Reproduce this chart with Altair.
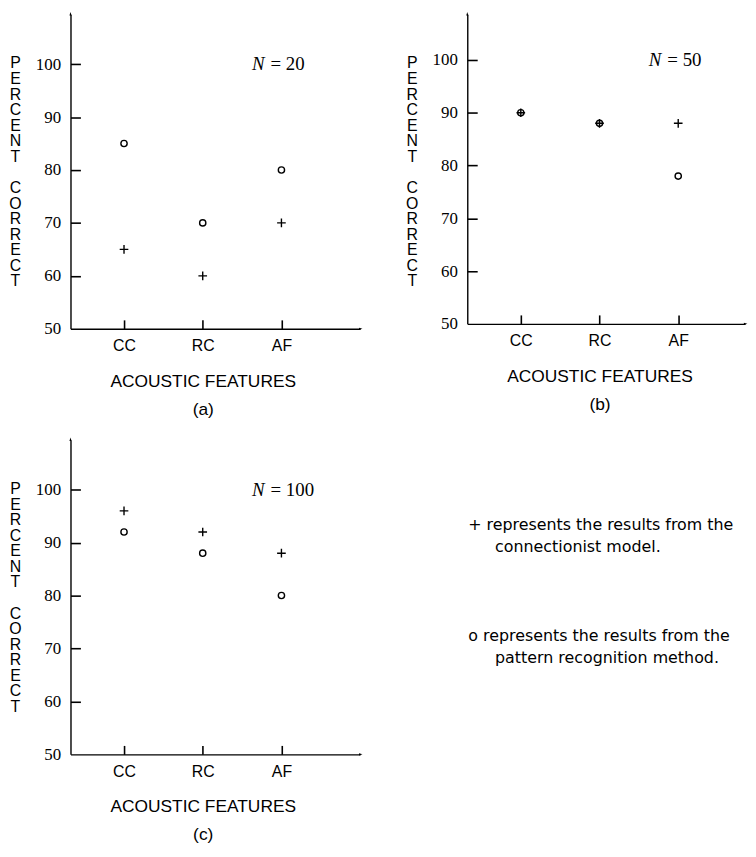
import altair as alt
import pandas as pd

# ---------------- data ----------------
features = ["CC", "RC", "AF"]
feature_pos = [1, 2, 3]
panel_tags = ["a", "b", "c"]
sample_sizes = [20, 50, 100]
conn_a = [65, 60, 70]
conn_b = [90, 88, 88]
conn_c = [96, 92, 88]
patt_a = [85, 70, 80]
patt_b = [90, 88, 78]
patt_c = [92, 88, 80]
y_tick_values = [60, 70, 80, 90, 100]
y_label_values = [50, 60, 70, 80, 90, 100]
y_title_letters = list("PERCENT") + ["\u2800"] + list("CORRECT")
x_title = "ACOUSTIC FEATURES"
legend_lines = [
    "+ represents the results from the",
    "connectionist model.",
    "o represents the results from the",
    "pattern recognition method.",
]

# ---------------- layout / style ----------------
W, H = 292, 317
WB, HB = 280, 312
X_DOMAIN = [0.32, 4.0]
X_DOMAIN_B = [0.32, 0.32 + WB / (W / 3.68)]
Y_DOMAIN = [50, 109.4]
Y_DOMAIN_B = [50, 108.65]
YTICK_PX = 10   # inward tick length on the y axis
XTICK_PX = 9    # inward tick length on the x axis
SANS = "Liberation Sans"
SERIF = "Liberation Serif"
LEG_FONT = "DejaVu Sans"
PLUS = "M-1,0H1M0,-1V1"
ARROW_UP = "M0,-1L-0.45,0.5L0.45,0.5Z"
ARROW_RIGHT = "M1,0L-0.5,-0.45L-0.5,0.45Z"

label_expr = "[" + ",".join(f"'{f}'" for f in features) + "][datum.value - 1]"


def panel(tag, n, conn, patt, width, height, xdom, ydom):
    pts = pd.DataFrame({
        "pos": feature_pos + feature_pos,
        "value": conn + patt,
        "method": ["conn"] * 3 + ["patt"] * 3,
    })
    x_unit = width / (xdom[1] - xdom[0])
    rc_px = (2 - xdom[0]) * x_unit
    xs = alt.Scale(domain=xdom, nice=False, zero=False)
    ys = alt.Scale(domain=ydom, nice=False, zero=False)
    x_axis = alt.Axis(
        values=feature_pos, labelExpr=label_expr, tickSize=0, labelPadding=9,
        labelFont=SANS, labelFontSize=16, labelColor="black",
        domainColor="black", domainWidth=1.4, grid=False,
        title=[x_title, f"({tag})"], titleFont=SANS, titleFontSize=17.5,
        titleFontWeight="normal", titleColor="black", titleLineHeight=28,
        titleX=rc_px, titleY=58, titleAlign="center", titleBaseline="alphabetic",
    )
    y_axis = alt.Axis(
        values=y_label_values, tickSize=0, labelPadding=10,
        labelFont=SERIF, labelFontSize=17, labelColor="black",
        domainColor="black", domainWidth=1.4, grid=False,
        title=y_title_letters, titleFont=SANS, titleFontSize=16,
        titleFontWeight="normal", titleColor="black", titleLineHeight=15.7,
        titleAngle=0, titleX=-56, titleY=41, titleAlign="center", titleBaseline="top",
    )
    # second pair of axes that only draws the inward-pointing tick marks
    x_tick_axis = alt.Axis(
        orient="bottom", values=feature_pos, offset=-XTICK_PX, tickSize=XTICK_PX, ticks=True,
        tickColor="black", tickWidth=1.6, domain=False, labels=False, grid=False, title=None,
    )
    y_tick_axis = alt.Axis(
        orient="left", values=y_tick_values, offset=-YTICK_PX, tickSize=YTICK_PX, ticks=True,
        tickColor="black", tickWidth=1.6, domain=False, labels=False, grid=False, title=None,
    )
    x_enc = alt.X("pos:Q", scale=xs, axis=x_axis)
    y_enc = alt.Y("value:Q", scale=ys, axis=y_axis)

    base = alt.Chart(pts).encode(x=x_enc, y=y_enc)
    plus = base.transform_filter("datum.method == 'conn'").mark_point(
        shape=PLUS, size=76, strokeWidth=1.4, color="black", filled=False, opacity=1)
    circ = base.transform_filter("datum.method == 'patt'").mark_point(
        shape="circle", size=40, strokeWidth=1.4, color="black", filled=False, opacity=1)

    ndf = pd.DataFrame({"pos": [feature_pos[2]], "value": [100],
                        "n": ["N"], "rest": [f"= {n}"]})
    ntext1 = alt.Chart(ndf).mark_text(
        font=SERIF, fontSize=19, fontStyle="italic", align="right",
        baseline="middle", dx=-17, color="black").encode(x=x_enc, y=y_enc, text="n:N")
    ntext2 = alt.Chart(ndf).mark_text(
        font=SERIF, fontSize=19, align="left", baseline="middle",
        dx=-11, color="black").encode(x=x_enc, y=y_enc, text="rest:N")

    up = alt.Chart(pd.DataFrame({"pos": [xdom[0]], "value": [ydom[1]]})).mark_point(
        shape=ARROW_UP, size=22, filled=True, color="black", opacity=1).encode(x=x_enc, y=y_enc)
    right = alt.Chart(pd.DataFrame({"pos": [xdom[1]], "value": [ydom[0]]})).mark_point(
        shape=ARROW_RIGHT, size=22, filled=True, color="black", opacity=1).encode(
        x=alt.X("pos:Q", scale=xs, axis=x_tick_axis),
        y=alt.Y("value:Q", scale=ys, axis=y_tick_axis))

    main = alt.layer(up, circ, plus, ntext1, ntext2)
    return alt.layer(main, right).resolve_axis(x="independent", y="independent").properties(
        width=width, height=height)


pa = panel(panel_tags[0], sample_sizes[0], conn_a, patt_a, W, H, X_DOMAIN, Y_DOMAIN)
pb = panel(panel_tags[1], sample_sizes[1], conn_b, patt_b, WB, HB, X_DOMAIN_B, Y_DOMAIN_B)
pc = panel(panel_tags[2], sample_sizes[2], conn_c, patt_c, W, H, X_DOMAIN, Y_DOMAIN)

LEG_X = [64, 91, 64, 91]
LEG_Y = [86, 108, 198, 220]
leg_layers = []
for i, line in enumerate(legend_lines):
    leg_layers.append(
        alt.Chart(pd.DataFrame({"t": [line]})).mark_text(
            font=LEG_FONT, fontSize=16, align="left", baseline="middle", color="black"
        ).encode(text="t:N", x=alt.value(LEG_X[i]), y=alt.value(LEG_Y[i]))
    )
legend = alt.layer(*leg_layers).properties(width=WB, height=H)

row1 = alt.hconcat(pa, pb, spacing=42)
row2 = alt.hconcat(pc, legend, spacing=42)
chart = alt.vconcat(row1, row2, spacing=19).properties(
    padding={"left": 0, "top": 0, "right": 0, "bottom": 0}
).configure(background="white").configure_view(stroke=None)

chart.save("out.html", embed_options={"renderer": "svg", "actions": False})
